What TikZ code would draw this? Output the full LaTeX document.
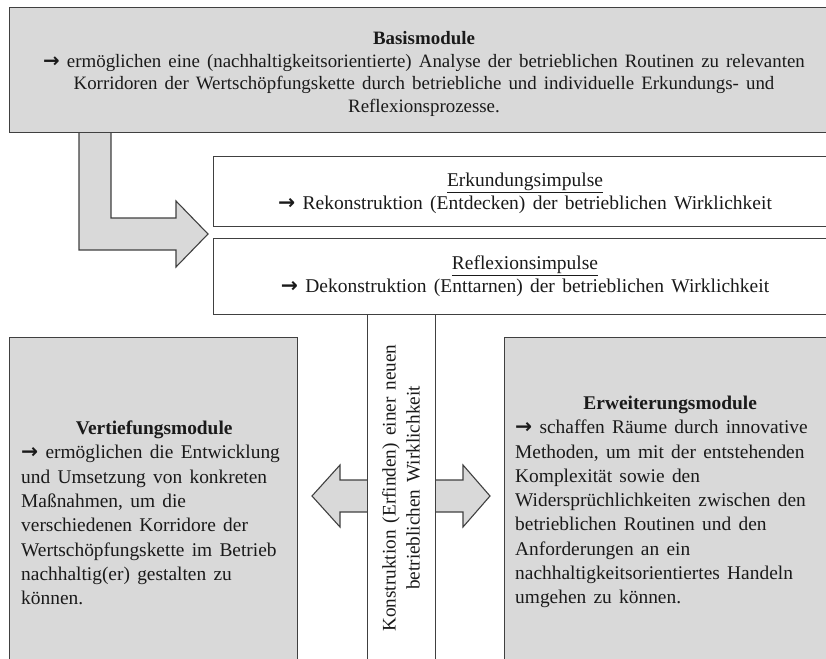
\documentclass[tikz,border=0pt]{standalone}
\usepackage{fontspec}
\setmainfont{Liberation Serif}[WordSpace=1.5]
\newfontfamily\arrowfont{DejaVu Sans}[Scale=1.05]
\newcommand{\myarr}{{\arrowfont\bfseries →}}
\definecolor{greyc}{HTML}{D9D9D9}
\definecolor{bordc}{HTML}{404040}
\definecolor{textc}{HTML}{1A1A1A}
\begin{document}
\begin{tikzpicture}[x=1pt,y=-1pt,
  boxbase/.style={draw=bordc, line width=1.2pt, inner sep=0pt, anchor=north west},
  gbox/.style={boxbase, fill=greyc},
  wbox/.style={boxbase, fill=white},
  blockarrow/.style={draw=bordc, line width=1.1pt, fill=greyc, line join=miter},
  txt/.style={text=textc, font=\fontsize{19.5}{23}\selectfont, inner sep=0pt},
  sidetxt/.style={text=textc, font=\fontsize{19.4}{24.3}\selectfont, inner sep=0pt, align=left}]
\useasboundingbox (0,0) rectangle (826,658);
\clip (0,0) rectangle (826,658);

% L-shaped block arrow from Basismodule to the impulse boxes
\filldraw[blockarrow] (79,120) -- (79,250) -- (176,250) -- (176,267) -- (208,234)
   -- (176,201) -- (176,218) -- (111,218) -- (111,120);

% Basismodule
\node[gbox, minimum width=826pt, minimum height=125pt] (basis) at (9,7) {};
\node[txt, align=center, font=\fontsize{18.9}{22.7}\selectfont] (basistxt) at (424,74) {\textbf{Basismodule}\\
\myarr{} ermöglichen eine (nachhaltigkeitsorientierte) Analyse der betrieblichen Routinen zu relevanten\\
Korridoren der Wertschöpfungskette durch betriebliche und individuelle Erkundungs- und\\
Reflexionsprozesse.};

% impulse boxes
\node[wbox, minimum width=622pt, minimum height=70pt] (erk) at (213,156) {};
\node[txt, align=center] (erktxt) at (525,193) {\underline{Erkundungsimpulse}\\
\myarr{} Rekonstruktion (Entdecken) der betrieblichen Wirklichkeit};
\node[wbox, minimum width=622pt, minimum height=76pt] (ref) at (213,238) {};
\node[txt, align=center] (reftxt) at (525,276) {\underline{Reflexionsimpulse}\\
\myarr{} Dekonstruktion (Enttarnen) der betrieblichen Wirklichkeit};

% side block arrows
\filldraw[blockarrow] (372,480) -- (340,480) -- (340,465) -- (312,496) -- (340,527) -- (340,512) -- (372,512);
\filldraw[blockarrow] (430,480) -- (463,480) -- (463,465) -- (490,496) -- (463,527) -- (463,512) -- (430,512);

% vertical bar
\node[wbox, minimum width=68pt, minimum height=360pt] (bar) at (367,314) {};
\node[txt, rotate=90, align=center, font=\fontsize{19.2}{24}\selectfont] (bartxt) at (401,488)
  {Konstruktion (Erfinden) einer neuen\\ betrieblichen Wirklichkeit};

% Vertiefungsmodule
\node[gbox, minimum width=288pt, minimum height=340pt] (vert) at (9,337) {};
\node[sidetxt, anchor=west] (verttxt) at (21,513) {\makebox[266pt][c]{\textbf{Vertiefungsmodule}}\\
\myarr{} ermöglichen die Entwicklung\\
und Umsetzung von konkreten\\
Maßnahmen, um die\\
verschiedenen Korridore der\\
Wertschöpfungskette im Betrieb\\
nachhaltig(er) gestalten zu\\
können.};

% Erweiterungsmodule
\node[gbox, minimum width=331pt, minimum height=340pt] (erw) at (504,337) {};
\node[sidetxt, anchor=west] (erwtxt) at (515,502) {\makebox[310pt][c]{\textbf{Erweiterungsmodule}}\\
\myarr{} schaffen Räume durch innovative\\
Methoden, um mit der entstehenden\\
Komplexität sowie den\\
Widersprüchlichkeiten zwischen den\\
betrieblichen Routinen und den\\
Anforderungen an ein\\
nachhaltigkeitsorientiertes Handeln\\
umgehen zu können.};
\end{tikzpicture}
\end{document}
